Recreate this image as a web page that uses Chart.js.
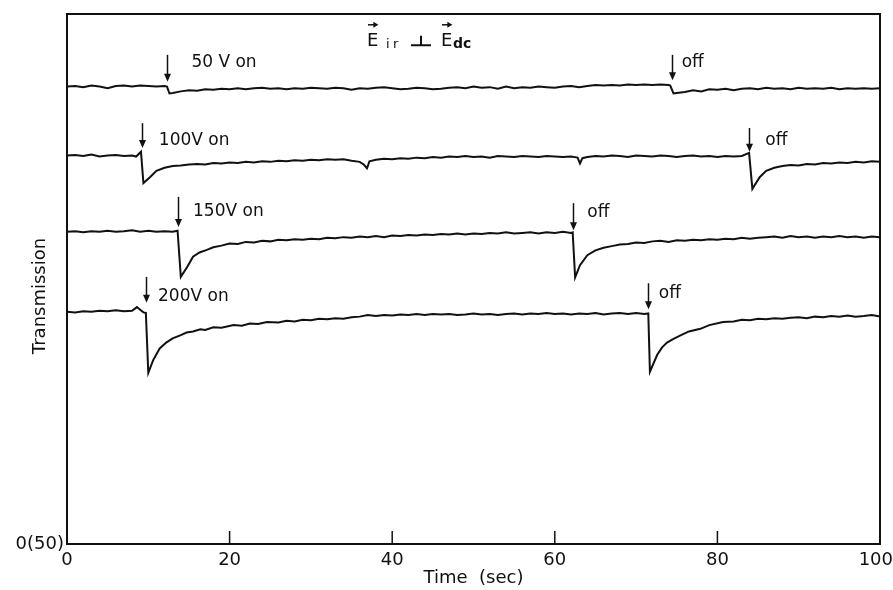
<!DOCTYPE html>
<html lang="en">
<head>
    <meta charset="UTF-8">
    <title>Transmission vs Time</title>
    <script src="https://cdn.jsdelivr.net/npm/chart.js"></script>
    <style>
        * { margin: 0; padding: 0; box-sizing: border-box; }
        body { background: #fff; width: 893px; height: 590px; overflow: hidden; }
        #wrap { position: relative; width: 893px; height: 590px; }
    </style>
</head>
<body>
    <div id="wrap"><canvas id="trace"></canvas></div>

    <script>
        // Traces (time in sec, transmission in arbitrary units)
        const time50 = [0,1,2,3,4,5,6,7,8,9,10,11,12,12.3,12.6,13,14,15,16,17,18,19,20,21,22,23,24,25,26,27,28,29,30,31,32,33,34,35,36,37,38,39,40,41,42,43,44,45,46,47,48,49,50,51,52,53,54,55,56,57,58,59,60,61,62,63,64,65,66,67,68,69,70,71,72,73,74,74.2,74.6,75,76,77,78,79,80,81,82,83,84,85,86,87,88,89,90,91,92,93,94,95,96,97,98,99,100];
        const trans50 = [86.3,86.4,86.2,86.5,86.3,86.0,86.4,86.5,86.3,86.5,86.4,86.3,86.4,86.3,85.0,85.1,85.4,85.6,85.5,85.8,85.7,85.9,85.8,86.0,85.8,86.0,86.1,85.9,86.0,85.8,86.0,85.9,86.1,86.0,85.9,86.1,86.0,85.7,86.0,85.9,86.1,86.2,86.0,85.8,85.9,86.1,86.0,85.8,85.9,86.1,86.2,86.0,86.3,86.1,86.2,85.9,86.3,86.0,86.2,86.1,86.3,86.2,86.1,86.3,86.4,86.2,86.4,86.6,86.5,86.6,86.5,86.7,86.6,86.7,86.6,86.7,86.6,86.5,85.0,85.1,85.3,85.6,85.4,85.8,85.7,85.9,85.6,85.9,86.0,85.8,86.1,85.9,86.0,85.8,86.1,85.9,86.0,85.9,86.1,85.8,86.0,85.9,86.0,85.9,86.0];

        const time100 = [0,1,2,3,4,5,6,7,8,8.5,9.1,9.4,10.2,11,12,13,14,15,16,17,18,19,20,21,22,23,24,25,26,27,28,29,30,31,32,33,34,35,36,36.5,36.9,37.2,38,39,40,41,42,43,44,45,46,47,48,49,50,51,52,53,54,55,56,57,58,59,60,61,62,62.8,63.1,63.4,64,65,66,67,68,69,70,71,72,73,74,75,76,77,78,79,80,81,82,83,83.9,84.3,85.2,86,87,88,89,90,91,92,93,94,95,96,97,98,99,100];
        const trans100 = [73.3,73.4,73.2,73.5,73.1,73.3,73.4,73.2,73.3,73.1,74.0,68.1,69.2,70.4,71.0,71.3,71.4,71.6,71.7,71.6,71.9,71.8,72.0,71.9,72.1,72.0,72.2,72.1,72.3,72.2,72.4,72.3,72.5,72.4,72.6,72.5,72.6,72.3,72.1,71.6,70.9,72.2,72.5,72.7,72.6,72.8,72.7,72.9,72.8,73.0,72.9,73.1,73.0,73.2,73.0,73.1,72.9,73.2,73.1,73.0,73.2,73.1,73.0,73.2,73.1,73.0,73.1,72.9,71.8,72.8,73.0,73.2,73.1,73.3,73.2,73.0,73.3,73.2,73.1,73.3,73.2,73.0,73.2,73.3,73.1,73.2,73.0,73.2,73.1,73.2,73.8,67.0,69.2,70.4,71.0,71.3,71.5,71.4,71.7,71.6,71.9,71.8,72.0,71.9,72.1,72.0,72.2,72.1];

        const time150 = [0,1,2,3,4,5,6,7,8,9,10,11,12,13,13.6,14.0,14.8,15.5,16.3,17.2,18,19,20,21,22,23,24,25,26,27,28,29,30,31,32,33,34,35,36,37,38,39,40,41,42,43,44,45,46,47,48,49,50,51,52,53,54,55,56,57,58,59,60,61,62,62.2,62.5,63.1,64,65,66,67,68,69,70,71,72,73,74,75,76,77,78,79,80,81,82,83,84,85,86,87,88,89,90,91,92,93,94,95,96,97,98,99,100];
        const trans150 = [58.9,59.0,58.8,59.0,58.9,59.1,58.9,59.0,59.2,58.9,59.1,58.9,59.0,58.9,59.1,50.4,52.3,54.2,55.0,55.5,56.0,56.3,56.7,56.6,57.0,56.9,57.2,57.1,57.4,57.3,57.5,57.4,57.6,57.5,57.8,57.7,57.9,57.8,58.0,57.9,58.1,57.9,58.2,58.1,58.3,58.2,58.4,58.3,58.5,58.4,58.6,58.4,58.6,58.5,58.7,58.6,58.8,58.6,58.7,58.8,58.6,58.8,58.7,58.9,58.7,58.8,50.3,52.6,54.5,55.4,55.9,56.2,56.5,56.6,56.9,56.8,57.1,57.2,57.0,57.3,57.2,57.4,57.3,57.5,57.4,57.6,57.5,57.8,57.6,57.8,57.9,58.0,57.8,58.1,57.9,58.0,57.8,58.0,57.9,58.1,57.9,58.0,57.8,58.0,57.9];

        const time200 = [0,1,2,3,4,5,6,7,8,8.6,9.0,9.4,9.7,10.0,10.6,11.4,12.2,13.0,14,14.7,15.5,16.4,17,18,19,20.5,21.5,22.5,23.5,24.6,26,27,28,29,30,31,32,33,34,35,36,37,38,39,40,41,42,43,44,45,46,47,48,49,50,51,52,53,54,55,56,57,58,59,60,61,62,63,64,65,66,67,68,69,70,71,71.5,71.7,72.6,73.2,73.8,74.6,75.4,76.5,77.9,79,80.7,82,83,84,85,86,87,88,89,90,91,92,93,94,95,96,97,98,99,100];
        const trans200 = [43.8,43.7,43.9,43.8,44.0,43.9,44.1,43.9,44.0,44.7,44.2,43.7,43.6,32.3,34.7,36.9,38.0,38.8,39.4,39.9,40.1,40.5,40.4,40.9,40.8,41.3,41.2,41.6,41.5,41.9,41.8,42.1,42.0,42.3,42.2,42.5,42.4,42.6,42.5,42.8,42.9,43.2,43.0,43.2,43.1,43.3,43.2,43.4,43.2,43.4,43.3,43.4,43.2,43.3,43.5,43.3,43.4,43.2,43.4,43.5,43.3,43.5,43.4,43.6,43.4,43.5,43.3,43.5,43.4,43.6,43.3,43.5,43.6,43.4,43.6,43.4,43.5,32.5,35.7,37.1,38.0,38.7,39.3,40.1,40.6,41.3,41.9,42.0,42.3,42.2,42.5,42.4,42.6,42.5,42.7,42.8,42.6,42.9,42.8,43.0,42.9,43.1,42.9,43.0,43.2,42.9];

        const xTicks = [0, 20, 40, 60, 80, 100];

        // arrow markers: time, arrow top, arrow tip, label position
        const markers = [
            { x: 12.3, top: 92.3, tip: 87.2, lx: 15.3, ly: 90.9, text: '50 V on' },
            { x: 74.4, top: 92.3, tip: 87.5, lx: 75.6, ly: 90.9, text: 'off' },
            { x: 9.2,  top: 79.4, tip: 74.7, lx: 11.3, ly: 76.2, text: '100V on' },
            { x: 83.9, top: 78.5, tip: 74.0, lx: 85.9, ly: 76.2, text: 'off' },
            { x: 13.6, top: 65.5, tip: 59.8, lx: 15.5, ly: 62.8, text: '150V on' },
            { x: 62.2, top: 64.3, tip: 59.2, lx: 64.0, ly: 62.5, text: 'off' },
            { x: 9.7,  top: 50.4, tip: 45.5, lx: 11.2, ly: 46.6, text: '200V on' },
            { x: 71.5, top: 49.2, tip: 44.3, lx: 72.8, ly: 47.2, text: 'off' }
        ];

        const FONT = '"DejaVu Sans", "Liberation Sans", sans-serif';

        function pts(t, v) {
            return t.map((x, i) => ({ x: x, y: v[i] }));
        }

        function traceSet(label, t, v) {
            return {
                label: label,
                data: pts(t, v),
                borderColor: '#111',
                borderWidth: 2,
                pointRadius: 0,
                tension: 0,
                fill: false
            };
        }

        // frame, inward ticks, tick labels, arrows, labels
        const decor = {
            id: 'decor',
            afterDraw(chart) {
                const ctx = chart.ctx;
                const a = chart.chartArea;
                const xs = chart.scales.x, ys = chart.scales.y;
                ctx.save();
                ctx.strokeStyle = '#111';
                ctx.fillStyle = '#111';
                ctx.lineWidth = 2;
                ctx.strokeRect(a.left, a.top, a.right - a.left, a.bottom - a.top);

                ctx.lineWidth = 1.5;
                xTicks.slice(1, -1).forEach(v => {
                    const px = xs.getPixelForValue(v);
                    ctx.beginPath();
                    ctx.moveTo(px, a.bottom);
                    ctx.lineTo(px, a.bottom - 13);
                    ctx.stroke();
                });

                // x tick labels, kept inside the canvas at the right end
                ctx.font = '18px ' + FONT;
                ctx.textAlign = 'center';
                ctx.textBaseline = 'middle';
                xTicks.forEach(v => {
                    const s = String(v);
                    const w = ctx.measureText(s).width;
                    const px = Math.min(xs.getPixelForValue(v), chart.width - w / 2);
                    ctx.fillText(s, px, a.bottom + 16);
                });

                ctx.font = '17px ' + FONT;
                ctx.textAlign = 'left';
                markers.forEach(m => {
                    const px = Math.round(xs.getPixelForValue(m.x)) + 0.5;
                    const y0 = ys.getPixelForValue(m.top);
                    const y1 = ys.getPixelForValue(m.tip);
                    ctx.lineWidth = 1.5;
                    ctx.beginPath();
                    ctx.moveTo(px, y0);
                    ctx.lineTo(px, y1 - 6);
                    ctx.stroke();
                    ctx.beginPath();
                    ctx.moveTo(px - 3.5, y1 - 8);
                    ctx.lineTo(px + 3.5, y1 - 8);
                    ctx.lineTo(px, y1);
                    ctx.closePath();
                    ctx.fill();
                    ctx.fillText(m.text, xs.getPixelForValue(m.lx), ys.getPixelForValue(m.ly));
                });

                // E_ir ⊥ E_dc, laid out from the first E
                const x0 = xs.getPixelForValue(36.9);
                const base = ys.getPixelForValue(94.0);
                ctx.textBaseline = 'alphabetic';
                const vecE = (xx) => {
                    ctx.font = '18px ' + FONT;
                    ctx.fillText('E', xx, base);
                    const w = ctx.measureText('E').width;
                    const ay = base - 21;
                    ctx.lineWidth = 1.5;
                    ctx.beginPath();
                    ctx.moveTo(xx + 1, ay);
                    ctx.lineTo(xx + w - 2, ay);
                    ctx.stroke();
                    ctx.beginPath();
                    ctx.moveTo(xx + w, ay);
                    ctx.lineTo(xx + w - 5, ay - 3);
                    ctx.lineTo(xx + w - 5, ay + 3);
                    ctx.closePath();
                    ctx.fill();
                };
                vecE(x0);
                ctx.font = '13px ' + FONT;
                ctx.fillText('i', x0 + 19, base + 2);
                ctx.fillText('r', x0 + 26, base + 2);
                // perpendicular sign
                ctx.lineWidth = 2;
                ctx.beginPath();
                ctx.moveTo(x0 + 44, base - 0.5);
                ctx.lineTo(x0 + 64, base - 0.5);
                ctx.moveTo(x0 + 54, base);
                ctx.lineTo(x0 + 54, base - 10);
                ctx.stroke();
                vecE(x0 + 74);
                ctx.font = 'bold 14px ' + FONT;
                ctx.fillText('dc', x0 + 86, base + 2);

                // y title
                ctx.font = '18px ' + FONT;
                ctx.textAlign = 'center';
                ctx.textBaseline = 'middle';
                ctx.translate(40, 296);
                ctx.rotate(-Math.PI / 2);
                ctx.fillText('Transmission', 0, 0);
                ctx.restore();
            }
        };

        new Chart(document.getElementById('trace'), {
            type: 'line',
            data: {
                datasets: [
                    traceSet('50V', time50, trans50),
                    traceSet('100V', time100, trans100),
                    traceSet('150V', time150, trans150),
                    traceSet('200V', time200, trans200)
                ]
            },
            options: {
                responsive: true,
                maintainAspectRatio: false,
                animation: false,
                layout: { padding: { top: 14, right: 13, left: 0, bottom: 0 } },
                plugins: {
                    legend: { display: false },
                    tooltip: { enabled: false }
                },
                scales: {
                    x: {
                        type: 'linear',
                        min: 0,
                        max: 100,
                        afterFit(s) {
                            s.height = 46;
                            s.paddingLeft = 0;
                            s.paddingRight = 0;
                        },
                        afterBuildTicks(s) { s.ticks = xTicks.map(v => ({ value: v })); },
                        grid: { display: false, drawTicks: false },
                        border: { display: false },
                        ticks: { display: false },
                        title: {
                            display: true,
                            text: 'Time  (sec)',
                            color: '#111',
                            font: { family: FONT, size: 18 },
                            padding: { top: 0, bottom: 1 }
                        }
                    },
                    y: {
                        type: 'linear',
                        min: 0,
                        max: 100,
                        afterFit(s) {
                            s.width = 67;
                            s.paddingTop = 0;
                            s.paddingBottom = 0;
                        },
                        afterBuildTicks(s) { s.ticks = [{ value: 0 }]; },
                        grid: { display: false, drawTicks: false },
                        border: { display: false },
                        ticks: {
                            color: '#111',
                            font: { family: FONT, size: 18 },
                            padding: 3,
                            callback: v => v === 0 ? '0(50)' : ''
                        }
                    }
                }
            },
            plugins: [decor]
        });
    </script>
</body>
</html>
